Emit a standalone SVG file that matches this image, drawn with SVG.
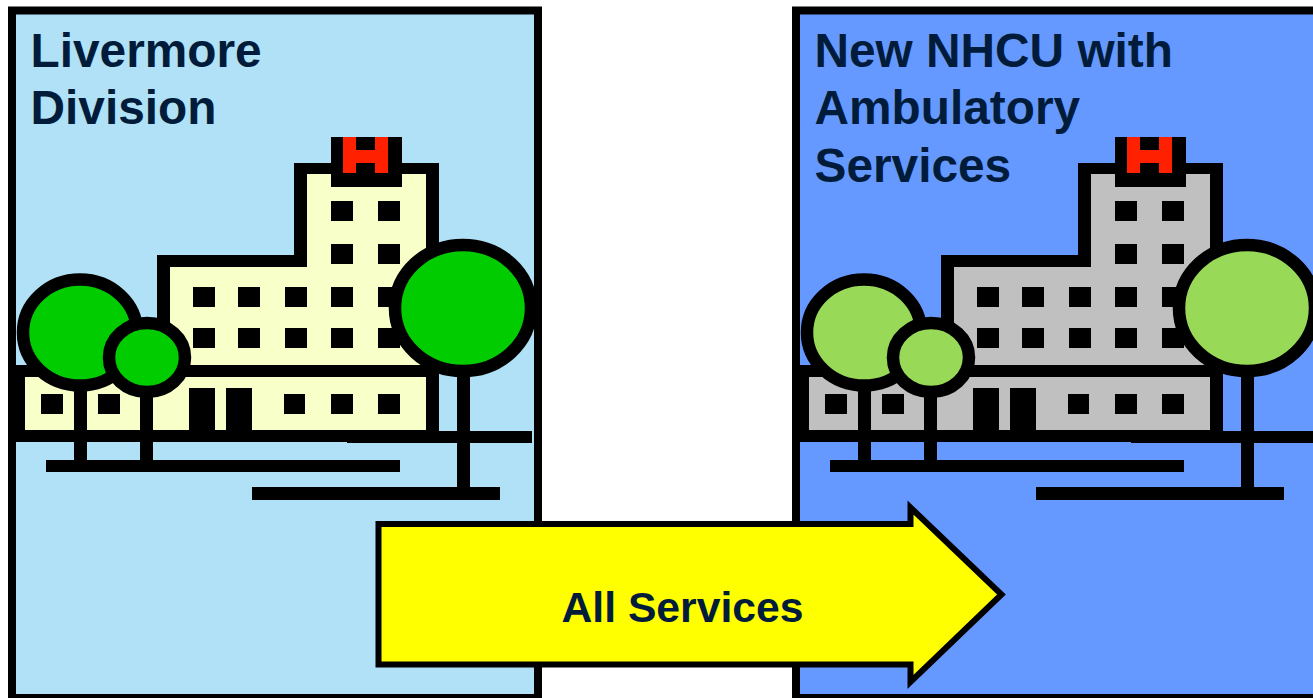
<svg xmlns="http://www.w3.org/2000/svg" width="1313" height="698" viewBox="0 0 1313 698">
<style>
text{font-family:"Liberation Sans",Arial,sans-serif;font-weight:700;fill:#001c3a}
.title{font-size:47.8px}
.k{fill:#000}
.panel{stroke:#000;stroke-width:8}
.wall{fill:var(--wall)}
.crown{fill:var(--tree);stroke:#000;stroke-width:12.5}
</style>
<defs>
<g id="campus">
<path class="k" d="M157,255H294V163H331V137H402V163H439V442H16V365H157Z"/>
<path class="wall" d="M170,267H307V174H426V365H170Z"/>
<path class="wall" d="M25,377H426V430H25Z"/>
<path class="k" d="M331,137H402V187H331Z"/>
<path fill="#ff2000" d="M343,137H356V150H375V137H388V173H375V163H356V173H343Z"/>
<path class="k" d="M331,201h22v20h-22zM378,201h22v20h-22zM331,244h22v20h-22zM378,244h22v20h-22zM193,287h22v20h-22zM238,287h22v20h-22zM285,287h22v20h-22zM331,287h22v20h-22zM378,287h22v20h-22zM193,328h22v20h-22zM238,328h22v20h-22zM285,328h22v20h-22zM331,328h22v20h-22zM378,328h22v20h-22zM41,394h22v20h-22zM98,394h22v20h-22zM284,394h21v20h-21zM331,394h22v20h-22zM378,394h22v20h-22zM189,388h26v42h-26zM226,388h26v42h-26z"/>
<path class="k" d="M347,431H532V443H347ZM46,460H400V472H46ZM252,487H500V500H252ZM74,385H87V462H74ZM140,390H153V462H140ZM457,370H470V490H457Z"/>
<ellipse class="crown" cx="80" cy="332.5" rx="57" ry="53"/>
<ellipse class="crown" cx="147" cy="357.5" rx="38" ry="34.5"/>
<ellipse class="crown" cx="463" cy="308" rx="68" ry="63" stroke-width="12"/>
</g>
</defs>
<g id="livermore-division">
<rect class="panel" x="12" y="10.5" width="526" height="687.5" fill="#b0e1f6"/>
<use href="#campus" style="--wall:#f8ffc8;--tree:#00cc00"/>
<text class="title" x="30.5" y="67">Livermore</text>
<text class="title" x="30.5" y="124">Division</text>
</g>
<g id="new-nhcu">
<rect class="panel" x="796" y="10.5" width="526" height="687.5" fill="#6699ff"/>
<use href="#campus" x="784" style="--wall:#c0c0c0;--tree:#99d958"/>
<text class="title" x="814.5" y="67">New NHCU with</text>
<text class="title" x="814.5" y="124">Ambulatory</text>
<text class="title" x="814.5" y="182">Services</text>
</g>
<g id="connectors">
<g id="all-services-arrow">
<path d="M378.5,524H910.5V507.5L1001.5,594.5L910.5,682V664.5H378.5Z" fill="#ffff00" stroke="#000" stroke-width="6"/>
<text x="682.5" y="622" font-size="42.7" text-anchor="middle">All Services</text>
</g>
</g>
</svg>
